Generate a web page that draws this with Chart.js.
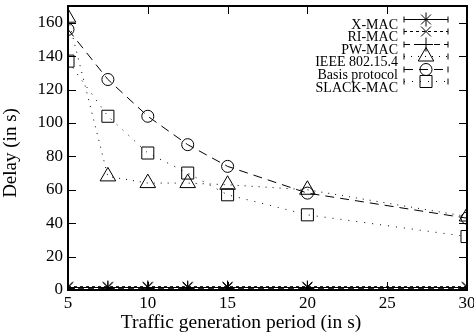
<!DOCTYPE html>
<html>
<head>
<meta charset="utf-8">
<script src="https://cdn.jsdelivr.net/npm/chart.js"></script>
<style>
  html, body { margin: 0; padding: 0; background: #fff; }
  #wrap { width: 474px; height: 334px; }
</style>
</head>
<body>
<div id="wrap"><canvas id="chart" width="474" height="334"></canvas></div>
<script>
// traffic generation periods (s)
var periods = [5, 7.5, 10, 12.5, 15, 20, 30];
var xTicks = [5, 10, 15, 20, 25, 30];
var yTicks = [0, 20, 40, 60, 80, 100, 120, 140, 160];

// delay values (s)
var xmacDelay = [1.5, 1.5, 1.5, 1.5, 1.5, 1.5, 1.5];
var rimacDelay = [2, 2, 2, 2, 2, 2, 2];
var pwmacDelay = [1, 1, 1, 1, 1, 1, 1];
var ieeeDelay = [163, 68, 64, 64, 63, 60, 44];
var basisDelay = [156, 126, 104, 87, 74, 58, 43];
var slackDelay = [137, 104, 82, 70, 57, 45, 32];

var labels = ['X-MAC', 'RI-MAC', 'PW-MAC', 'IEEE 802.15.4', 'Basis protocol', 'SLACK-MAC'];
var series = [xmacDelay, rimacDelay, pwmacDelay, ieeeDelay, basisDelay, slackDelay];
var markers = ['star', 'crossRot', 'cross', 'triangle', 'circle', 'rect'];
var dashes = [[], [3, 3], [6, 4], [1, 6], [9, 6], [1, 7]];
var radii = [7, 7, 7, 9, 6, 8.5];

var xTitle = 'Traffic generation period (in s)';
var yTitle = 'Delay (in s)';

var serif = '"Liberation Serif", "DejaVu Serif", serif';

function toXY(vals) {
  return vals.map(function (v, i) { return { x: periods[i], y: v }; });
}

var datasets = series.map(function (vals, i) {
  return {
    label: labels[i],
    data: toXY(vals),
    borderColor: '#000',
    borderWidth: 1,
    borderDash: dashes[i],
    pointStyle: markers[i],
    pointRadius: radii[i],
    pointBorderWidth: 1,
    pointBorderColor: '#000',
    pointBackgroundColor: 'rgba(0,0,0,0)',
    fill: false,
    tension: 0
  };
});

// pin the plot box where the original has it (labels may overhang the edge)
var boxPlugin = {
  id: 'box',
  afterLayout: function (chart) {
    var a = chart.chartArea, xs = chart.scales.x, ys = chart.scales.y;
    a.right = 467; a.top = 6;
    a.width = a.right - a.left; a.height = a.bottom - a.top;
    xs.right = a.right; xs.width = xs.right - xs.left; xs.configure();
    ys.top = a.top; ys.height = ys.bottom - ys.top; ys.configure();
  }
};

// frame with inward ticks on all four sides, like gnuplot
var framePlugin = {
  id: 'frame',
  afterDatasetsDraw: function (chart) {
    var ctx = chart.ctx, a = chart.chartArea;
    var xs = chart.scales.x, ys = chart.scales.y;
    ctx.save();
    ctx.strokeStyle = '#000';
    ctx.lineWidth = 1;
    xTicks.forEach(function (t) {
      var px = Math.round(xs.getPixelForValue(t)) + 0.5;
      ctx.beginPath();
      ctx.moveTo(px, a.bottom); ctx.lineTo(px, a.bottom - 8);
      ctx.moveTo(px, a.top); ctx.lineTo(px, a.top + 8);
      ctx.stroke();
    });
    yTicks.forEach(function (t) {
      var py = Math.round(ys.getPixelForValue(t)) + 0.5;
      ctx.beginPath();
      ctx.moveTo(a.left, py); ctx.lineTo(a.left + 8, py);
      ctx.moveTo(a.right, py); ctx.lineTo(a.right - 8, py);
      ctx.stroke();
    });
    ctx.lineWidth = 2;
    ctx.strokeRect(a.left, a.top, a.right - a.left, a.bottom - a.top);

    // axis titles, placed as in the original (not centred on the plot)
    ctx.fillStyle = '#000';
    ctx.font = '19.5px ' + serif;
    ctx.textAlign = 'center';
    ctx.textBaseline = 'alphabetic';
    ctx.fillText(xTitle, 241, 328);
    ctx.translate(16, 153);
    ctx.rotate(-Math.PI / 2);
    ctx.font = '19px ' + serif;
    ctx.fillText(yTitle, 0, 0);
    ctx.restore();
  }
};

// gnuplot style key: right aligned text, sample line with marker
var keyPlugin = {
  id: 'key',
  afterDraw: function (chart) {
    var ctx = chart.ctx;
    var textX = 398, lineX0 = 404, lineX1 = 448, markX = 426;
    ctx.save();
    ctx.font = '14px ' + serif;
    ctx.textAlign = 'right';
    ctx.textBaseline = 'middle';
    chart.data.datasets.forEach(function (ds, i) {
      var y = Math.round(19 + i * 12.4) + 0.5;
      ctx.fillStyle = '#000';
      ctx.fillText(ds.label, textX, 25 + i * 12.6);
      ctx.strokeStyle = '#000';
      ctx.lineWidth = 1;
      ctx.setLineDash(ds.borderDash);
      ctx.beginPath();
      ctx.moveTo(lineX0, y); ctx.lineTo(lineX1, y);
      ctx.stroke();
      ctx.setLineDash([]);
      ctx.beginPath();
      ctx.moveTo(lineX0, y - 3); ctx.lineTo(lineX0, y + 3);
      ctx.moveTo(lineX1, y - 3); ctx.lineTo(lineX1, y + 3);
      ctx.stroke();
      ctx.fillStyle = 'rgba(0,0,0,0)';
      Chart.helpers.drawPoint(ctx, {
        pointStyle: ds.pointStyle, radius: ds.pointRadius, rotation: 0, borderWidth: 1
      }, markX, y);
    });
    ctx.restore();
  }
};

var myChart = new Chart(document.getElementById('chart').getContext('2d'), {
  type: 'line',
  data: { datasets: datasets },
  options: {
    responsive: false,
    animation: false,
    layout: { padding: { top: 6, right: 7, left: 0, bottom: 0 } },
    plugins: {
      legend: { display: false },
      tooltip: { enabled: false }
    },
    scales: {
      x: {
        type: 'linear',
        min: 5,
        max: 30,
        afterBuildTicks: function (s) { s.ticks = xTicks.map(function (v) { return { value: v }; }); },
        afterFit: function (s) { s.height = 44; },
        grid: { display: false, drawTicks: false },
        border: { display: false },
        ticks: { color: '#000', font: { family: serif, size: 17 }, padding: 3, maxRotation: 0 },
        title: { display: false }
      },
      y: {
        min: 0,
        max: 170,
        afterBuildTicks: function (s) { s.ticks = yTicks.map(function (v) { return { value: v }; }); },
        afterFit: function (s) { s.width = 68; },
        grid: { display: false, drawTicks: false },
        border: { display: false },
        ticks: { color: '#000', font: { family: serif, size: 17 }, padding: 5 },
        title: { display: false }
      }
    }
  },
  plugins: [boxPlugin, framePlugin, keyPlugin]
});
</script>
</body>
</html>
